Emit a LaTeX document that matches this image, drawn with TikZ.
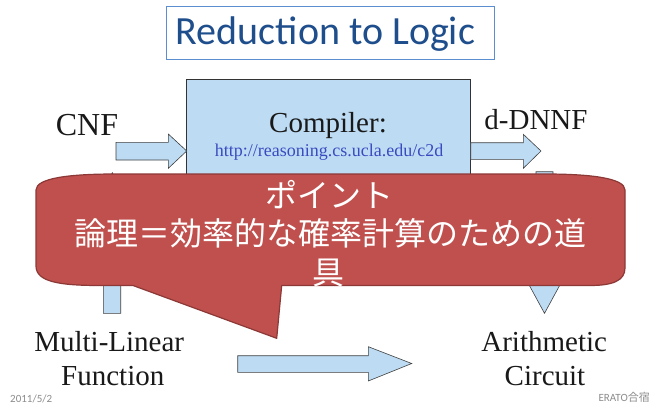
\documentclass[tikz,border=0pt]{standalone}
\usepackage{fontspec}
\setmainfont{Liberation Serif}
\newfontfamily\calfont{Carlito}
\newfontfamily\jpfont{Noto Sans CJK JP}
\definecolor{lblue}{HTML}{BDDCF4}
\definecolor{titleblue}{HTML}{1F4E8C}
\definecolor{frameblue}{HTML}{5B8ED0}
\definecolor{calloutred}{HTML}{C0504D}
\definecolor{calloutedge}{HTML}{8C3836}
\definecolor{urlblue}{HTML}{3A4BC0}
\definecolor{footgray}{HTML}{8C8C8C}
\tikzset{
  blockarrow/.style={fill=lblue, draw=black!75, line width=0.6pt, line join=miter},
  serif/.style={font=\fontsize{29}{29}\selectfont, text=black!90, inner sep=0pt, anchor=base},
  jp/.style={font=\jpfont\fontsize{32}{32}\selectfont, text=white, inner sep=0pt, anchor=base},
  foot/.style={font=\calfont\fontsize{11}{11}\selectfont, text=footgray, inner sep=0pt}
}
\begin{document}
\begin{tikzpicture}[x=1pt,y=-1pt]
\useasboundingbox[fill=white] (0,0) rectangle (651,407);
% title
\draw[frameblue, line width=0.8pt] (166.7,6) rectangle (494,59.3);
\node[font=\calfont\fontsize{40}{40}\selectfont, text=titleblue, inner sep=0pt, anchor=base] (title) at (325.5,44) {Reduction to Logic};
% compiler box
\draw[fill=lblue, draw=black!80, line width=0.8pt] (186.7,79.3) rectangle (470.7,195);
\node[serif] (comp) at (328,132.5) {Compiler:};
\node[font=\fontsize{18}{18}\selectfont, text=urlblue, inner sep=0pt, anchor=base] (url) at (329,156.7) {http://reasoning.cs.ucla.edu/c2d};
% CNF and d-DNNF
\node[serif, font=\fontsize{32}{32}\selectfont] (cnf) at (87,135) {CNF};
\node[serif] (ddnnf) at (536,129.3) {d-DNNF};
% horizontal arrows
\draw[blockarrow] (116,142.3) -- (168.3,142.3) -- (168.3,134) -- (186.7,151) -- (168.3,168.3) -- (168.3,160) -- (116,160) -- cycle;
\draw[blockarrow] (470.7,142.7) -- (523.3,142.7) -- (523.3,134.3) -- (541,151) -- (523.3,168.3) -- (523.3,159.3) -- (470.7,159.3) -- cycle;
% left up arrow
\draw[blockarrow] (103.3,313.3) -- (103.3,205) -- (95,205) -- (112.3,172.7) -- (129.5,205) -- (120.7,205) -- (120.7,313.3) -- cycle;
% right down arrow
\draw[blockarrow] (536,171.7) -- (553,171.7) -- (553,282) -- (561.5,282) -- (544.5,313.3) -- (527.5,282) -- (536,282) -- cycle;
% bottom arrow
\draw[blockarrow] (237.7,355.7) -- (368.3,355.7) -- (368.3,346.7) -- (411.7,363.5) -- (368.3,381) -- (368.3,372.3) -- (237.7,372.3) -- cycle;
% bottom labels
\node[serif] (ml) at (109.2,351.7) {Multi-Linear};
\node[serif] (fn) at (112.8,385) {Function};
\node[serif] (ar) at (544.2,351.7) {Arithmetic};
\node[serif] (ci) at (545,385) {Circuit};
% callout
\draw[fill=calloutred, draw=calloutedge, line width=1.2pt, line join=round]
  (36,266) -- (36,190) .. controls (36,178) and (70,174) .. (115,174) -- (545,174)
  .. controls (590,174) and (625,178) .. (625,190) -- (625,268)
  .. controls (625,281) and (612,285.5) .. (590,285.5) -- (281.7,285.5) -- (276.7,338.3) -- (133,285.5) -- (100,285.5)
  .. controls (60,285.5) and (36,282) .. (36,266) -- cycle;
\node[jp] (p1) at (329.6,207) {ポイント};
\node[jp] (p2) at (330.6,245) {論理＝効率的な確率計算のための道};
\node[jp] (p3) at (328.8,284) {具};
% footer
\node[foot, anchor=base west] (date) at (10,402.7) {2011/5/2};
\node[foot, anchor=base east] (erato) at (650,401.7) {ERATO{\jpfont 合宿}};
\end{tikzpicture}
\end{document}
